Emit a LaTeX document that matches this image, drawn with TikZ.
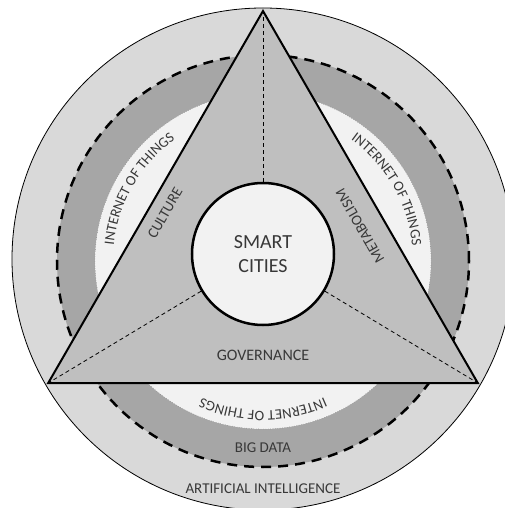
\documentclass[tikz,border=0pt]{standalone}
\usepackage{fontspec}
\setmainfont{Carlito}
\usepackage{tikz}
\usetikzlibrary{positioning}
\usetikzlibrary{decorations.text}

\definecolor{ringout}{gray}{0.85}
\definecolor{ringdark}{gray}{0.65}
\definecolor{trifill}{gray}{0.75}
\definecolor{paper}{gray}{0.95}
\definecolor{ink}{gray}{0.22}

\begin{document}
\begin{tikzpicture}[x=1pt,y=1pt,
  label text/.style={text=ink,font=\fontsize{15}{18}\selectfont,inner sep=0pt},
  hub node/.style={circle,draw,line width=2.5pt,fill=paper,minimum size=142pt,inner sep=0pt,
    align=center,text=ink,font=\fontsize{20}{24}\selectfont},
  spoke/.style={dash pattern=on 4pt off 3pt,line width=0.8pt},
  iot text/.style={decorate,decoration={text along path,text align=center,text color=ink,
    text={|\fontsize{14.5}{17}\selectfont|INTERNET OF THINGS}}}]

  \useasboundingbox (-263,-249) rectangle (242,259);
  \clip (-263,-249) rectangle (242,259);
  \fill[white] (-263,-249) rectangle (242,259);

  \filldraw[fill=ringout,draw=black,line width=0.8pt] (0,0) circle (251);
  \fill[ringdark] (0,-2) circle (206);
  \draw[line width=2.5pt,dash pattern=on 10pt off 7pt] (0,-2) circle (206);
  \filldraw[fill=paper,draw=black!60,dotted,line width=0.4pt] (0,-2) circle (168);

  \coordinate (apex) at (90:248);
  \coordinate (lv) at (210:248);
  \coordinate (rv) at (330:248);
  \filldraw[fill=trifill,line width=2pt] (apex) -- (lv) -- (rv) -- cycle;

  \node[hub node] (hub) at (0,5) {SMART\\CITIES};
  \draw[spoke] (hub) -- (apex);
  \draw[spoke] (hub) -- (lv);
  \draw[spoke] (hub) -- (rv);

  \path[iot text] (0,-2) ++(65:150) arc[start angle=65,end angle=-5,radius=150];
  \path[iot text] (0,-2) ++(185:150) arc[start angle=185,end angle=115,radius=150];
  \path[iot text] (0,-2) ++(-55:150) arc[start angle=-55,end angle=-125,radius=150];

  \node[label text,rotate=60] (culture) at (-98,46) {CULTURE};
  \node[label text,rotate=120] (metabolism) at (97,33) {METABOLISM};
  \node[label text,font=\fontsize{16}{19}\selectfont] (governance) at (0,-96.5) {GOVERNANCE};
  \node[label text] (bigdata) at (0,-189) {BIG DATA};
  \node[label text] (ai) at (0,-230) {ARTIFICIAL INTELLIGENCE};

\end{tikzpicture}
\end{document}
